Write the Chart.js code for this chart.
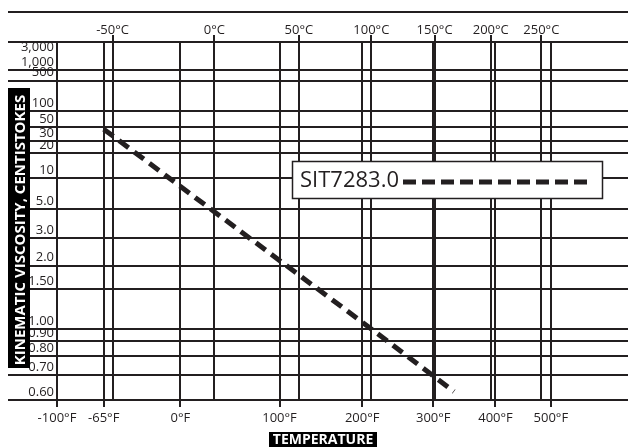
<!DOCTYPE html>
<html>
<head>
<meta charset="utf-8">
<script src="https://cdn.jsdelivr.net/npm/chart.js@4.4.1/dist/chart.umd.min.js"></script>
<style>
  html, body { margin: 0; padding: 0; background: #fff; }
</style>
</head>
<body>
<canvas id="viscosity-chart" width="628" height="447"></canvas>
<script>
// fluid curve: temperature (°F) vs kinematic viscosity (cSt)
const SERIES_NAME = "SIT7283.0";
const SERIES_TEMPS_F = [-65, 212, 332];
const SERIES_VISCOSITY = [46, 1.0, 0.63];

// axis ticks
const F_TICKS = [-100, -65, 0, 100, 200, 300, 400, 500];
const C_TICKS = [-50, 0, 50, 100, 150, 200, 250];
const VISC_TICKS = [0.6, 0.7, 0.8, 0.9, 1, 1.5, 2, 3, 5, 10, 20, 30, 50, 100, 500, 1000, 3000];
const VISC_LABELS = ["0.60", "0.70", "0.80", "0.90", "1.00", "1.50", "2.0", "3.0", "5.0", "10", "20", "30", "50", "100", "500", "1,000", "3,000"];
const VISC_NO_RULE = [3000];

// axis extents
const X_MIN_F = -100;
const X_MAX_F = 659;
const Y_MIN_CST = 0.6;
const Y_MAX_CST = 9150;

const INK = "#231f20";
const FONT = "'Open Sans', 'Noto Sans', sans-serif";

// chart temperature axis is log of absolute temperature,
// viscosity axis is log-log of (cSt + 0.7) like the ASTM charts
const fToK = f => (f + 459.67) / 1.8;
const cToK = c => c + 273.15;
const loglog = v => Math.log10(Math.log10(v + 0.7));

const yTickValues = VISC_TICKS.map(loglog).concat([loglog(Y_MAX_CST)]);

const decorPlugin = {
  id: 'decor',
  afterDraw(chart) {
    const ctx = chart.ctx;
    ctx.save();

    // rule across the top
    ctx.strokeStyle = INK;
    ctx.lineWidth = 2;
    ctx.beginPath();
    ctx.moveTo(8, 12);
    ctx.lineTo(628, 12);
    ctx.stroke();

    // legend box
    const ds = chart.data.datasets[0];
    ctx.fillStyle = '#fff';
    ctx.fillRect(292, 161, 311, 38);
    ctx.lineWidth = 1.5;
    ctx.strokeRect(292.5, 161.5, 310, 37);
    ctx.fillStyle = INK;
    ctx.font = "22px " + FONT;
    ctx.textBaseline = 'middle';
    ctx.textAlign = 'left';
    ctx.fillText(ds.label, 300, 181);
    ctx.lineWidth = ds.borderWidth;
    ctx.setLineDash([13, 6]);
    ctx.beginPath();
    ctx.moveTo(403, 182);
    ctx.lineTo(587, 182);
    ctx.stroke();
    ctx.setLineDash([]);

    // axis titles, white on black
    ctx.fillStyle = '#000';
    ctx.fillRect(8, 88, 22, 280);
    ctx.fillRect(269, 432, 108, 16);
    ctx.fillStyle = '#fff';
    ctx.font = "bold 15px " + FONT;
    ctx.textAlign = 'center';
    ctx.save();
    ctx.translate(20, 230);
    ctx.rotate(-Math.PI / 2);
    ctx.fillText("KINEMATIC VISCOSITY, CENTISTOKES", 0, 1);
    ctx.restore();
    ctx.font = "bold 14px " + FONT;
    ctx.fillText("TEMPERATURE", 323, 440);

    ctx.restore();
  }
};

const chartConfig = {
  type: 'line',
  data: {
    datasets: [{
      label: SERIES_NAME,
      data: SERIES_TEMPS_F.map((f, i) => ({ x: fToK(f), y: loglog(SERIES_VISCOSITY[i]) })),
      borderColor: INK,
      borderWidth: 5,
      borderDash: [12, 7],
      borderCapStyle: 'butt',
      pointRadius: 0,
      fill: false,
      tension: 0
    }]
  },
  options: {
    responsive: false,
    animation: false,
    devicePixelRatio: 1,
    layout: { padding: 0 },
    plugins: {
      legend: { display: false },
      tooltip: { enabled: false }
    },
    scales: {
      x: {
        type: 'logarithmic',
        position: 'bottom',
        min: fToK(X_MIN_F),
        max: fToK(X_MAX_F),
        afterBuildTicks: (scale) => {
          scale.ticks = F_TICKS.map(f => ({ value: fToK(f) }));
        },
        afterFit: (scale) => { scale.height = 47; },
        grid: { color: INK, lineWidth: 2, tickLength: 7 },
        border: { color: INK, width: 2 },
        ticks: {
          autoSkip: false,
          maxRotation: 0,
          color: INK,
          padding: 3,
          font: { family: FONT, size: 13 },
          callback: (value, index) => F_TICKS[index] + "°F"
        }
      },
      xTop: {
        type: 'logarithmic',
        axis: 'x',
        position: 'top',
        min: fToK(X_MIN_F),
        max: fToK(X_MAX_F),
        afterBuildTicks: (scale) => {
          scale.ticks = C_TICKS.map(c => ({ value: cToK(c) }));
        },
        afterFit: (scale) => { scale.height = 42; },
        grid: { color: INK, lineWidth: 2, tickLength: 7 },
        border: { color: INK, width: 2 },
        ticks: {
          autoSkip: false,
          maxRotation: 0,
          color: INK,
          padding: -3,
          font: { family: FONT, size: 13 },
          callback: (value, index) => C_TICKS[index] + "°C"
        }
      },
      y: {
        type: 'linear',
        min: loglog(Y_MIN_CST),
        max: loglog(Y_MAX_CST),
        afterBuildTicks: (scale) => {
          scale.ticks = yTickValues.map(v => ({ value: v }));
        },
        afterFit: (scale) => { scale.width = 57; },
        grid: {
          color: (ctx) => VISC_NO_RULE.includes(VISC_TICKS[ctx.index]) ? 'rgba(0,0,0,0)' : INK,
          lineWidth: 2,
          tickLength: 49
        },
        border: { color: INK, width: 2 },
        ticks: {
          autoSkip: false,
          color: INK,
          padding: -46,
          labelOffset: -8,
          font: { family: FONT, size: 13 },
          callback: (value, index) => VISC_LABELS[index] || ''
        }
      }
    }
  },
  plugins: [decorPlugin]
};

const viscosityChart = new Chart(document.getElementById('viscosity-chart'), chartConfig);
</script>
</body>
</html>
